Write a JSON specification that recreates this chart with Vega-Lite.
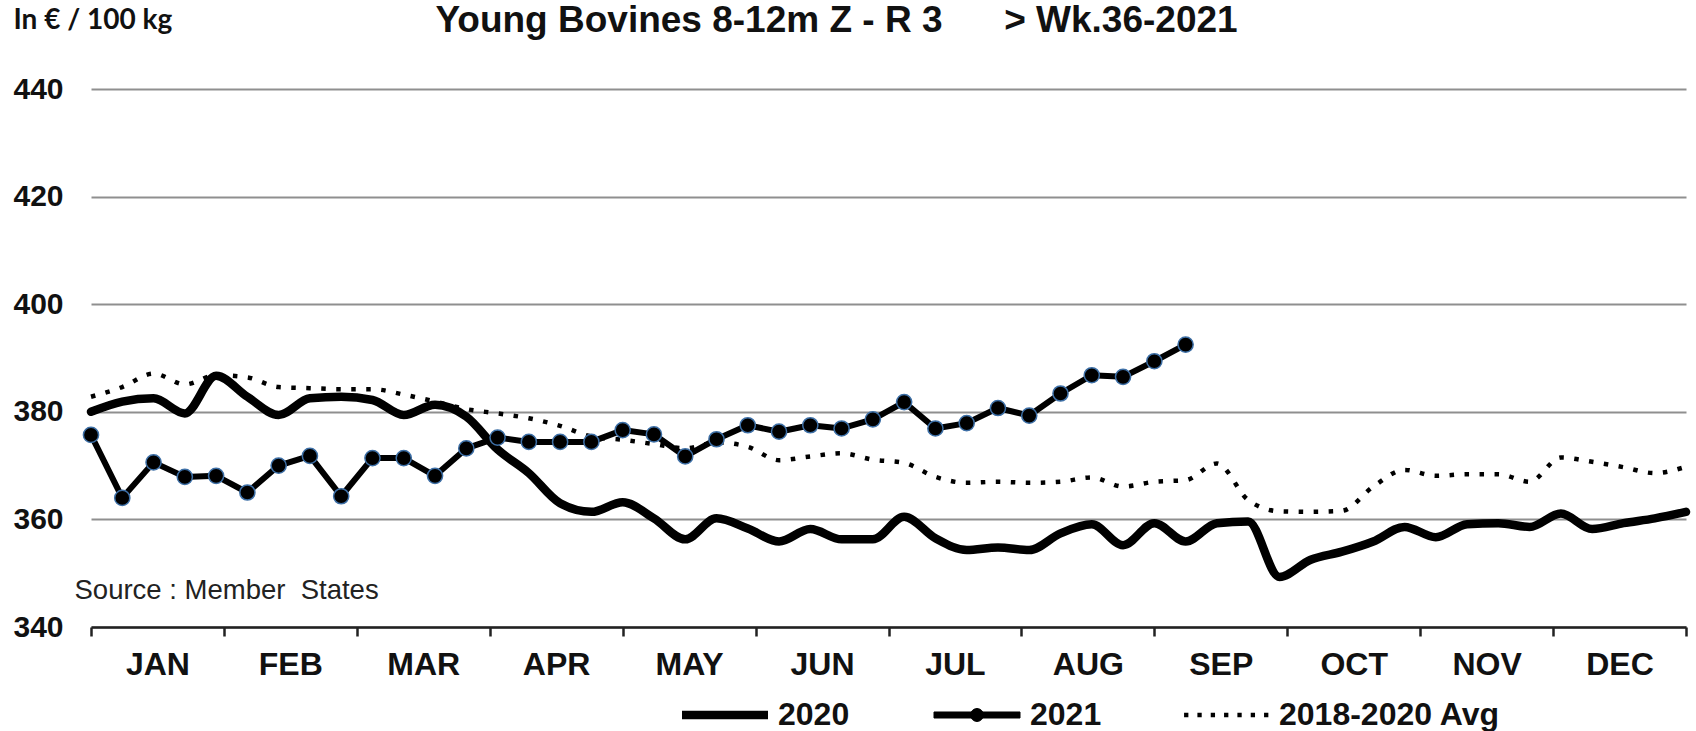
{
  "$schema": "https://vega.github.io/schema/vega-lite/v6.json",
  "autosize": {"type": "none"},
  "width": 1595,
  "height": 538,
  "padding": {"left": 91, "top": 89, "right": 10, "bottom": 104},
  "background": "white",
  "config": {"view": {"stroke": null}},
  "title": {
    "text": "Young Bovines 8-12m Z - R 3\u00a0\u00a0\u00a0\u00a0\u00a0 > Wk.36-2021",
    "frame": "group",
    "anchor": "middle",
    "dx": -52,
    "offset": -63,
    "baseline": "alphabetic",
    "font": "Liberation Sans",
    "fontSize": 37,
    "fontWeight": "bold",
    "color": "#111"
  },
  "datasets": {
    "prices": [
      {"week": 1, "series": "2020", "price": 380.0}, {"week": 2, "series": "2020", "price": 381.9}, {"week": 3, "series": "2020", "price": 382.5}, {"week": 4, "series": "2020", "price": 379.7},
      {"week": 5, "series": "2020", "price": 386.7}, {"week": 6, "series": "2020", "price": 382.8}, {"week": 7, "series": "2020", "price": 379.4}, {"week": 8, "series": "2020", "price": 382.5},
      {"week": 9, "series": "2020", "price": 382.8}, {"week": 10, "series": "2020", "price": 382.2}, {"week": 11, "series": "2020", "price": 379.4}, {"week": 12, "series": "2020", "price": 381.3},
      {"week": 13, "series": "2020", "price": 379.1}, {"week": 14, "series": "2020", "price": 373.0}, {"week": 15, "series": "2020", "price": 368.6}, {"week": 16, "series": "2020", "price": 363.0},
      {"week": 17, "series": "2020", "price": 361.4}, {"week": 18, "series": "2020", "price": 363.2}, {"week": 19, "series": "2020", "price": 360.2}, {"week": 20, "series": "2020", "price": 356.3},
      {"week": 21, "series": "2020", "price": 360.2}, {"week": 22, "series": "2020", "price": 358.3}, {"week": 23, "series": "2020", "price": 355.9}, {"week": 24, "series": "2020", "price": 358.2},
      {"week": 25, "series": "2020", "price": 356.3}, {"week": 26, "series": "2020", "price": 356.3}, {"week": 27, "series": "2020", "price": 360.5}, {"week": 28, "series": "2020", "price": 356.5},
      {"week": 29, "series": "2020", "price": 354.3}, {"week": 30, "series": "2020", "price": 354.8}, {"week": 31, "series": "2020", "price": 354.3}, {"week": 32, "series": "2020", "price": 357.4},
      {"week": 33, "series": "2020", "price": 359.1}, {"week": 34, "series": "2020", "price": 355.2}, {"week": 35, "series": "2020", "price": 359.3}, {"week": 36, "series": "2020", "price": 355.9},
      {"week": 37, "series": "2020", "price": 359.3}, {"week": 38, "series": "2020", "price": 359.6}, {"week": 39, "series": "2020", "price": 349.3}, {"week": 40, "series": "2020", "price": 352.5},
      {"week": 41, "series": "2020", "price": 354.0}, {"week": 42, "series": "2020", "price": 355.9}, {"week": 43, "series": "2020", "price": 358.6}, {"week": 44, "series": "2020", "price": 356.7},
      {"week": 45, "series": "2020", "price": 359.1}, {"week": 46, "series": "2020", "price": 359.3}, {"week": 47, "series": "2020", "price": 358.6}, {"week": 48, "series": "2020", "price": 361.1},
      {"week": 49, "series": "2020", "price": 358.2}, {"week": 50, "series": "2020", "price": 359.3}, {"week": 51, "series": "2020", "price": 360.2}, {"week": 52, "series": "2020", "price": 361.4},

      {"week": 1, "series": "2021", "price": 375.7}, {"week": 2, "series": "2021", "price": 364.0}, {"week": 3, "series": "2021", "price": 370.6}, {"week": 4, "series": "2021", "price": 367.9},
      {"week": 5, "series": "2021", "price": 368.1}, {"week": 6, "series": "2021", "price": 365.0}, {"week": 7, "series": "2021", "price": 370.0}, {"week": 8, "series": "2021", "price": 371.8},
      {"week": 9, "series": "2021", "price": 364.3}, {"week": 10, "series": "2021", "price": 371.4}, {"week": 11, "series": "2021", "price": 371.4}, {"week": 12, "series": "2021", "price": 368.1},
      {"week": 13, "series": "2021", "price": 373.2}, {"week": 14, "series": "2021", "price": 375.2}, {"week": 15, "series": "2021", "price": 374.4}, {"week": 16, "series": "2021", "price": 374.4},
      {"week": 17, "series": "2021", "price": 374.4}, {"week": 18, "series": "2021", "price": 376.6}, {"week": 19, "series": "2021", "price": 375.8}, {"week": 20, "series": "2021", "price": 371.7},
      {"week": 21, "series": "2021", "price": 374.9}, {"week": 22, "series": "2021", "price": 377.5}, {"week": 23, "series": "2021", "price": 376.3}, {"week": 24, "series": "2021", "price": 377.5},
      {"week": 25, "series": "2021", "price": 376.9}, {"week": 26, "series": "2021", "price": 378.6}, {"week": 27, "series": "2021", "price": 381.8}, {"week": 28, "series": "2021", "price": 376.9},
      {"week": 29, "series": "2021", "price": 377.9}, {"week": 30, "series": "2021", "price": 380.7}, {"week": 31, "series": "2021", "price": 379.3}, {"week": 32, "series": "2021", "price": 383.4},
      {"week": 33, "series": "2021", "price": 386.8}, {"week": 34, "series": "2021", "price": 386.5}, {"week": 35, "series": "2021", "price": 389.4}, {"week": 36, "series": "2021", "price": 392.5},

      {"week": 1, "series": "2018-2020 Avg", "price": 382.8}, {"week": 2, "series": "2018-2020 Avg", "price": 384.6}, {"week": 3, "series": "2018-2020 Avg", "price": 387.1}, {"week": 4, "series": "2018-2020 Avg", "price": 385.1},
      {"week": 5, "series": "2018-2020 Avg", "price": 386.8}, {"week": 6, "series": "2018-2020 Avg", "price": 386.4}, {"week": 7, "series": "2018-2020 Avg", "price": 384.6}, {"week": 8, "series": "2018-2020 Avg", "price": 384.4},
      {"week": 9, "series": "2018-2020 Avg", "price": 384.2}, {"week": 10, "series": "2018-2020 Avg", "price": 384.2}, {"week": 11, "series": "2018-2020 Avg", "price": 383.2}, {"week": 12, "series": "2018-2020 Avg", "price": 381.9},
      {"week": 13, "series": "2018-2020 Avg", "price": 380.5}, {"week": 14, "series": "2018-2020 Avg", "price": 379.7}, {"week": 15, "series": "2018-2020 Avg", "price": 378.8}, {"week": 16, "series": "2018-2020 Avg", "price": 377.4},
      {"week": 17, "series": "2018-2020 Avg", "price": 375.4}, {"week": 18, "series": "2018-2020 Avg", "price": 374.8}, {"week": 19, "series": "2018-2020 Avg", "price": 374.0}, {"week": 20, "series": "2018-2020 Avg", "price": 373.2},
      {"week": 21, "series": "2018-2020 Avg", "price": 374.3}, {"week": 22, "series": "2018-2020 Avg", "price": 373.5}, {"week": 23, "series": "2018-2020 Avg", "price": 371.0}, {"week": 24, "series": "2018-2020 Avg", "price": 371.7},
      {"week": 25, "series": "2018-2020 Avg", "price": 372.3}, {"week": 26, "series": "2018-2020 Avg", "price": 371.1}, {"week": 27, "series": "2018-2020 Avg", "price": 370.5}, {"week": 28, "series": "2018-2020 Avg", "price": 367.9},
      {"week": 29, "series": "2018-2020 Avg", "price": 366.8}, {"week": 30, "series": "2018-2020 Avg", "price": 367.0}, {"week": 31, "series": "2018-2020 Avg", "price": 366.8}, {"week": 32, "series": "2018-2020 Avg", "price": 367.0},
      {"week": 33, "series": "2018-2020 Avg", "price": 367.8}, {"week": 34, "series": "2018-2020 Avg", "price": 366.1}, {"week": 35, "series": "2018-2020 Avg", "price": 367.0}, {"week": 36, "series": "2018-2020 Avg", "price": 367.3},
      {"week": 37, "series": "2018-2020 Avg", "price": 370.4}, {"week": 38, "series": "2018-2020 Avg", "price": 363.6}, {"week": 39, "series": "2018-2020 Avg", "price": 361.5}, {"week": 40, "series": "2018-2020 Avg", "price": 361.4},
      {"week": 41, "series": "2018-2020 Avg", "price": 361.6}, {"week": 42, "series": "2018-2020 Avg", "price": 366.1}, {"week": 43, "series": "2018-2020 Avg", "price": 369.2}, {"week": 44, "series": "2018-2020 Avg", "price": 368.1},
      {"week": 45, "series": "2018-2020 Avg", "price": 368.4}, {"week": 46, "series": "2018-2020 Avg", "price": 368.4}, {"week": 47, "series": "2018-2020 Avg", "price": 367.0}, {"week": 48, "series": "2018-2020 Avg", "price": 371.5},
      {"week": 49, "series": "2018-2020 Avg", "price": 370.7}, {"week": 50, "series": "2018-2020 Avg", "price": 369.7}, {"week": 51, "series": "2018-2020 Avg", "price": 368.6}, {"week": 52, "series": "2018-2020 Avg", "price": 369.8}
    ]
  },
  "data": {"name": "prices"},
  "encoding": {
    "x": {
      "field": "week", "type": "quantitative",
      "scale": {"domain": [1, 52], "nice": false, "zero": false},
      "axis": {
        "title": "Source : Member\u00a0 States",
        "titleX": -17,
        "titleY": -29,
        "titleAlign": "left",
        "titleAnchor": "start",
        "titleBaseline": "alphabetic",
        "titleAngle": 0,
        "titleFont": "Liberation Sans",
        "titleFontSize": 27.5,
        "titleFontWeight": "normal",
        "titleColor": "#222",
        "values": [1, 5.25, 9.5, 13.75, 18, 22.25, 26.5, 30.75, 35, 39.25, 43.5, 47.75, 52],
        "labelExpr": "['JAN','FEB','MAR','APR','MAY','JUN','JUL','AUG','SEP','OCT','NOV','DEC',''][round((datum.value - 1) / 4.25)]",
        "labelOffset": 66.4,
        "labelAlign": "center",
        "labelBaseline": "alphabetic",
        "labelPadding": 38,
        "labelOverlap": false,
        "labelBound": false,
        "labelFlush": false,
        "labelFont": "Liberation Sans",
        "labelFontSize": 32,
        "labelFontWeight": "bold",
        "labelColor": "#111",
        "ticks": true,
        "tickSize": 9,
        "tickWidth": 2.5,
        "tickColor": "#222",
        "domain": true,
        "domainColor": "#222",
        "domainWidth": 2.5,
        "grid": false
      }
    },
    "y": {
      "field": "price", "type": "quantitative",
      "scale": {"domain": [340, 440], "nice": false, "zero": false},
      "axis": {
        "title": "In € / 100 kg",
        "titleAngle": 0,
        "titleAlign": "left",
        "titleAnchor": "start",
        "titleBaseline": "alphabetic",
        "titleX": -78,
        "titleY": -61,
        "titleFont": "Lato",
        "titleFontSize": 28,
        "titleFontWeight": "bold",
        "titleColor": "#111",
        "values": [340, 360, 380, 400, 420, 440],
        "ticks": false,
        "domain": false,
        "labelAlign": "left",
        "labelBaseline": "middle",
        "labelPadding": 78,
        "labelFont": "Liberation Sans",
        "labelFontSize": 30,
        "labelFontWeight": "bold",
        "labelColor": "#111",
        "grid": true,
        "gridColor": "#8f8f8f",
        "gridWidth": 2
      }
    },
    "color": {
      "field": "series", "type": "nominal",
      "scale": {"domain": ["2020", "2021", "2018-2020 Avg"], "range": ["#000000", "#000000", "#000000"]},
      "legend": {
        "orient": "none",
        "legendX": 618,
        "legendY": 610,
        "direction": "horizontal",
        "title": null,
        "padding": 0,
        "symbolSize": 7396,
        "symbolStrokeWidth": 0,
        "labelFont": "Liberation Sans",
        "labelFontSize": 32,
        "labelFontWeight": "bold",
        "labelColor": "#111",
        "labelOffset": 37,
        "labelLimit": 400,
        "columnPadding": 82,
        "encode": {
          "symbols": {
            "update": {
              "shape": {"signal": "datum.value === '2020' ? 'M-1,-0.1H1V0.1H-1Z' : datum.value === '2021' ? 'M-1,-0.07H1V0.07H-1Z M0.15,0A0.15,0.15,0,1,1,-0.15,0A0.15,0.15,0,1,1,0.15,0Z' : 'M-0.975,-0.05h0.1v0.1h-0.1Z M-0.665,-0.05h0.1v0.1h-0.1Z M-0.355,-0.05h0.1v0.1h-0.1Z M-0.045,-0.05h0.1v0.1h-0.1Z M0.265,-0.05h0.1v0.1h-0.1Z M0.575,-0.05h0.1v0.1h-0.1Z M0.885,-0.05h0.1v0.1h-0.1Z'"},
              "fill": {"value": "#000000"},
              "stroke": {"signal": "datum.value === '2021' ? '#3d6fa6' : '#000000'"},
              "strokeWidth": {"signal": "datum.value === '2021' ? 1 : 0"},
              "opacity": {"value": 1},
              "fillOpacity": {"value": 1}
            }
          }
        }
      }
    }
  },
  "layer": [
    {
      "transform": [{"filter": "datum.series === '2018-2020 Avg'"}],
      "mark": {"type": "line", "interpolate": "monotone", "strokeWidth": 4.5, "strokeDash": [4.5, 10.5], "strokeCap": "butt"}
    },
    {
      "transform": [{"filter": "datum.series === '2020'"}],
      "mark": {"type": "line", "interpolate": "monotone", "strokeWidth": 8.5, "strokeCap": "round", "strokeJoin": "round"}
    },
    {
      "transform": [{"filter": "datum.series === '2021'"}],
      "mark": {
        "type": "line", "strokeWidth": 6, "strokeJoin": "round",
        "point": {"filled": true, "size": 230, "stroke": "#3d6fa6", "strokeWidth": 1.5, "fill": "#000000"}
      }
    }
  ]
}
